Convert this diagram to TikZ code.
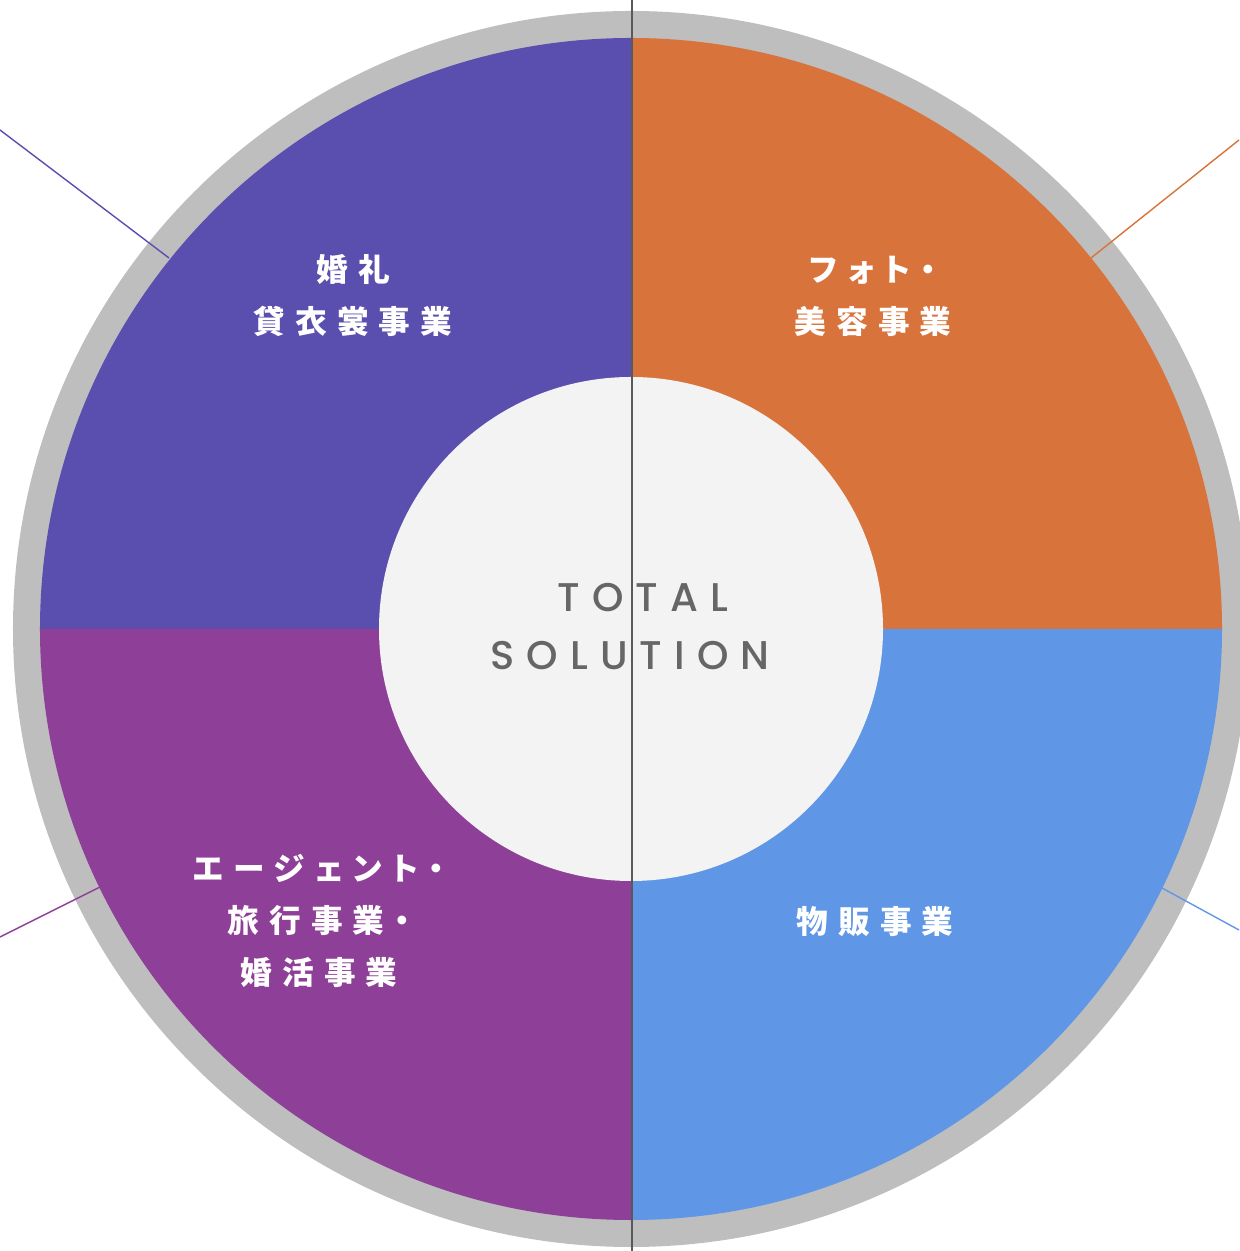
\documentclass[tikz,border=0pt]{standalone}
\usepackage{fontspec}
\setmainfont{Poppins}
\newfontfamily\jpfont[LetterSpace=32, RawFeature=+palt]{Noto Sans CJK JP}
\newfontfamily\enfont[LetterSpace=30, UprightFont={* Medium}]{Poppins}
\usetikzlibrary{calc}
\definecolor{ringgray}{HTML}{BEBEBE}
\definecolor{hubwhite}{HTML}{F3F3F3}
\definecolor{weddingblue}{HTML}{5A4EAE}
\definecolor{photoorange}{HTML}{D8733B}
\definecolor{agentpurple}{HTML}{8E3F97}
\definecolor{salesblue}{HTML}{5F97E6}
\definecolor{hubtext}{HTML}{666666}
\tikzset{
	jplabel/.style={text=white, align=center, font=\jpfont\bfseries\fontsize{9}{14.8}\selectfont},
	hublabel/.style={text=hubtext, font=\enfont\fontsize{11.4}{12}\selectfont},
	leader/.style={line width=0.4pt}
}

\begin{document}
\begin{tikzpicture}
			%%%%% START %%%%%
			
			\useasboundingbox (-6.31, -6.22) rectangle (6.08, 6.29);
			
			\fill[ringgray] (0, 0) circle (6.18);
			
			\fill[weddingblue] (0, 0) -- (90:5.91) arc (90:180:5.91) -- cycle;
			\fill[photoorange] (0, 0) -- (0:5.91) arc (0:90:5.91) -- cycle;
			\fill[agentpurple] (0, 0) -- (180:5.91) arc (180:270:5.91) -- cycle;
			\fill[salesblue] (0, 0) -- (270:5.91) arc (270:360:5.91) -- cycle;
			
			\fill[hubwhite] (0, 0) circle (2.52);
			
			\coordinate (wedding edge) at (-4.62, 3.71);
			\coordinate (wedding end) at (-6.31, 4.99);
			\coordinate (photo edge) at (4.60, 3.71);
			\coordinate (photo end) at (6.08, 4.89);
			\coordinate (agent edge) at (-5.31, -2.58);
			\coordinate (agent end) at (-6.31, -3.08);
			\coordinate (sales edge) at (5.31, -2.59);
			\coordinate (sales end) at (6.08, -3.01);
			
			\draw[leader, color=weddingblue] (wedding edge) -- (wedding end);
			\draw[leader, color=photoorange] (photo edge) -- (photo end);
			\draw[leader, color=agentpurple] (agent edge) -- (agent end);
			\draw[leader, color=salesblue] (sales edge) -- (sales end);
			
			\node[jplabel] (wedding) at (-2.78, 3.33) {婚礼\\貸衣裳事業};
			\node[jplabel] (photo) at (2.42, 3.33) {フォト・\\美容事業};
			\node[jplabel] (agent) at (-3.12, -2.92) {エージェント・\\旅行事業・\\婚活事業};
			\node[jplabel] (sales) at (2.44, -2.93) {物販事業};
			
			\node[hublabel] (total) at (0.12, 0.31) {TOTAL};
			\node[hublabel] (solution) at (-0.01, -0.27) {SOLUTION};
			
			% fold of the page
			\draw[line width=0.6pt, color=black!65] (0.01, 6.29) -- (0.01, -6.22);
			
			%%%%% END %%%%%
		\end{tikzpicture}
\end{document}
